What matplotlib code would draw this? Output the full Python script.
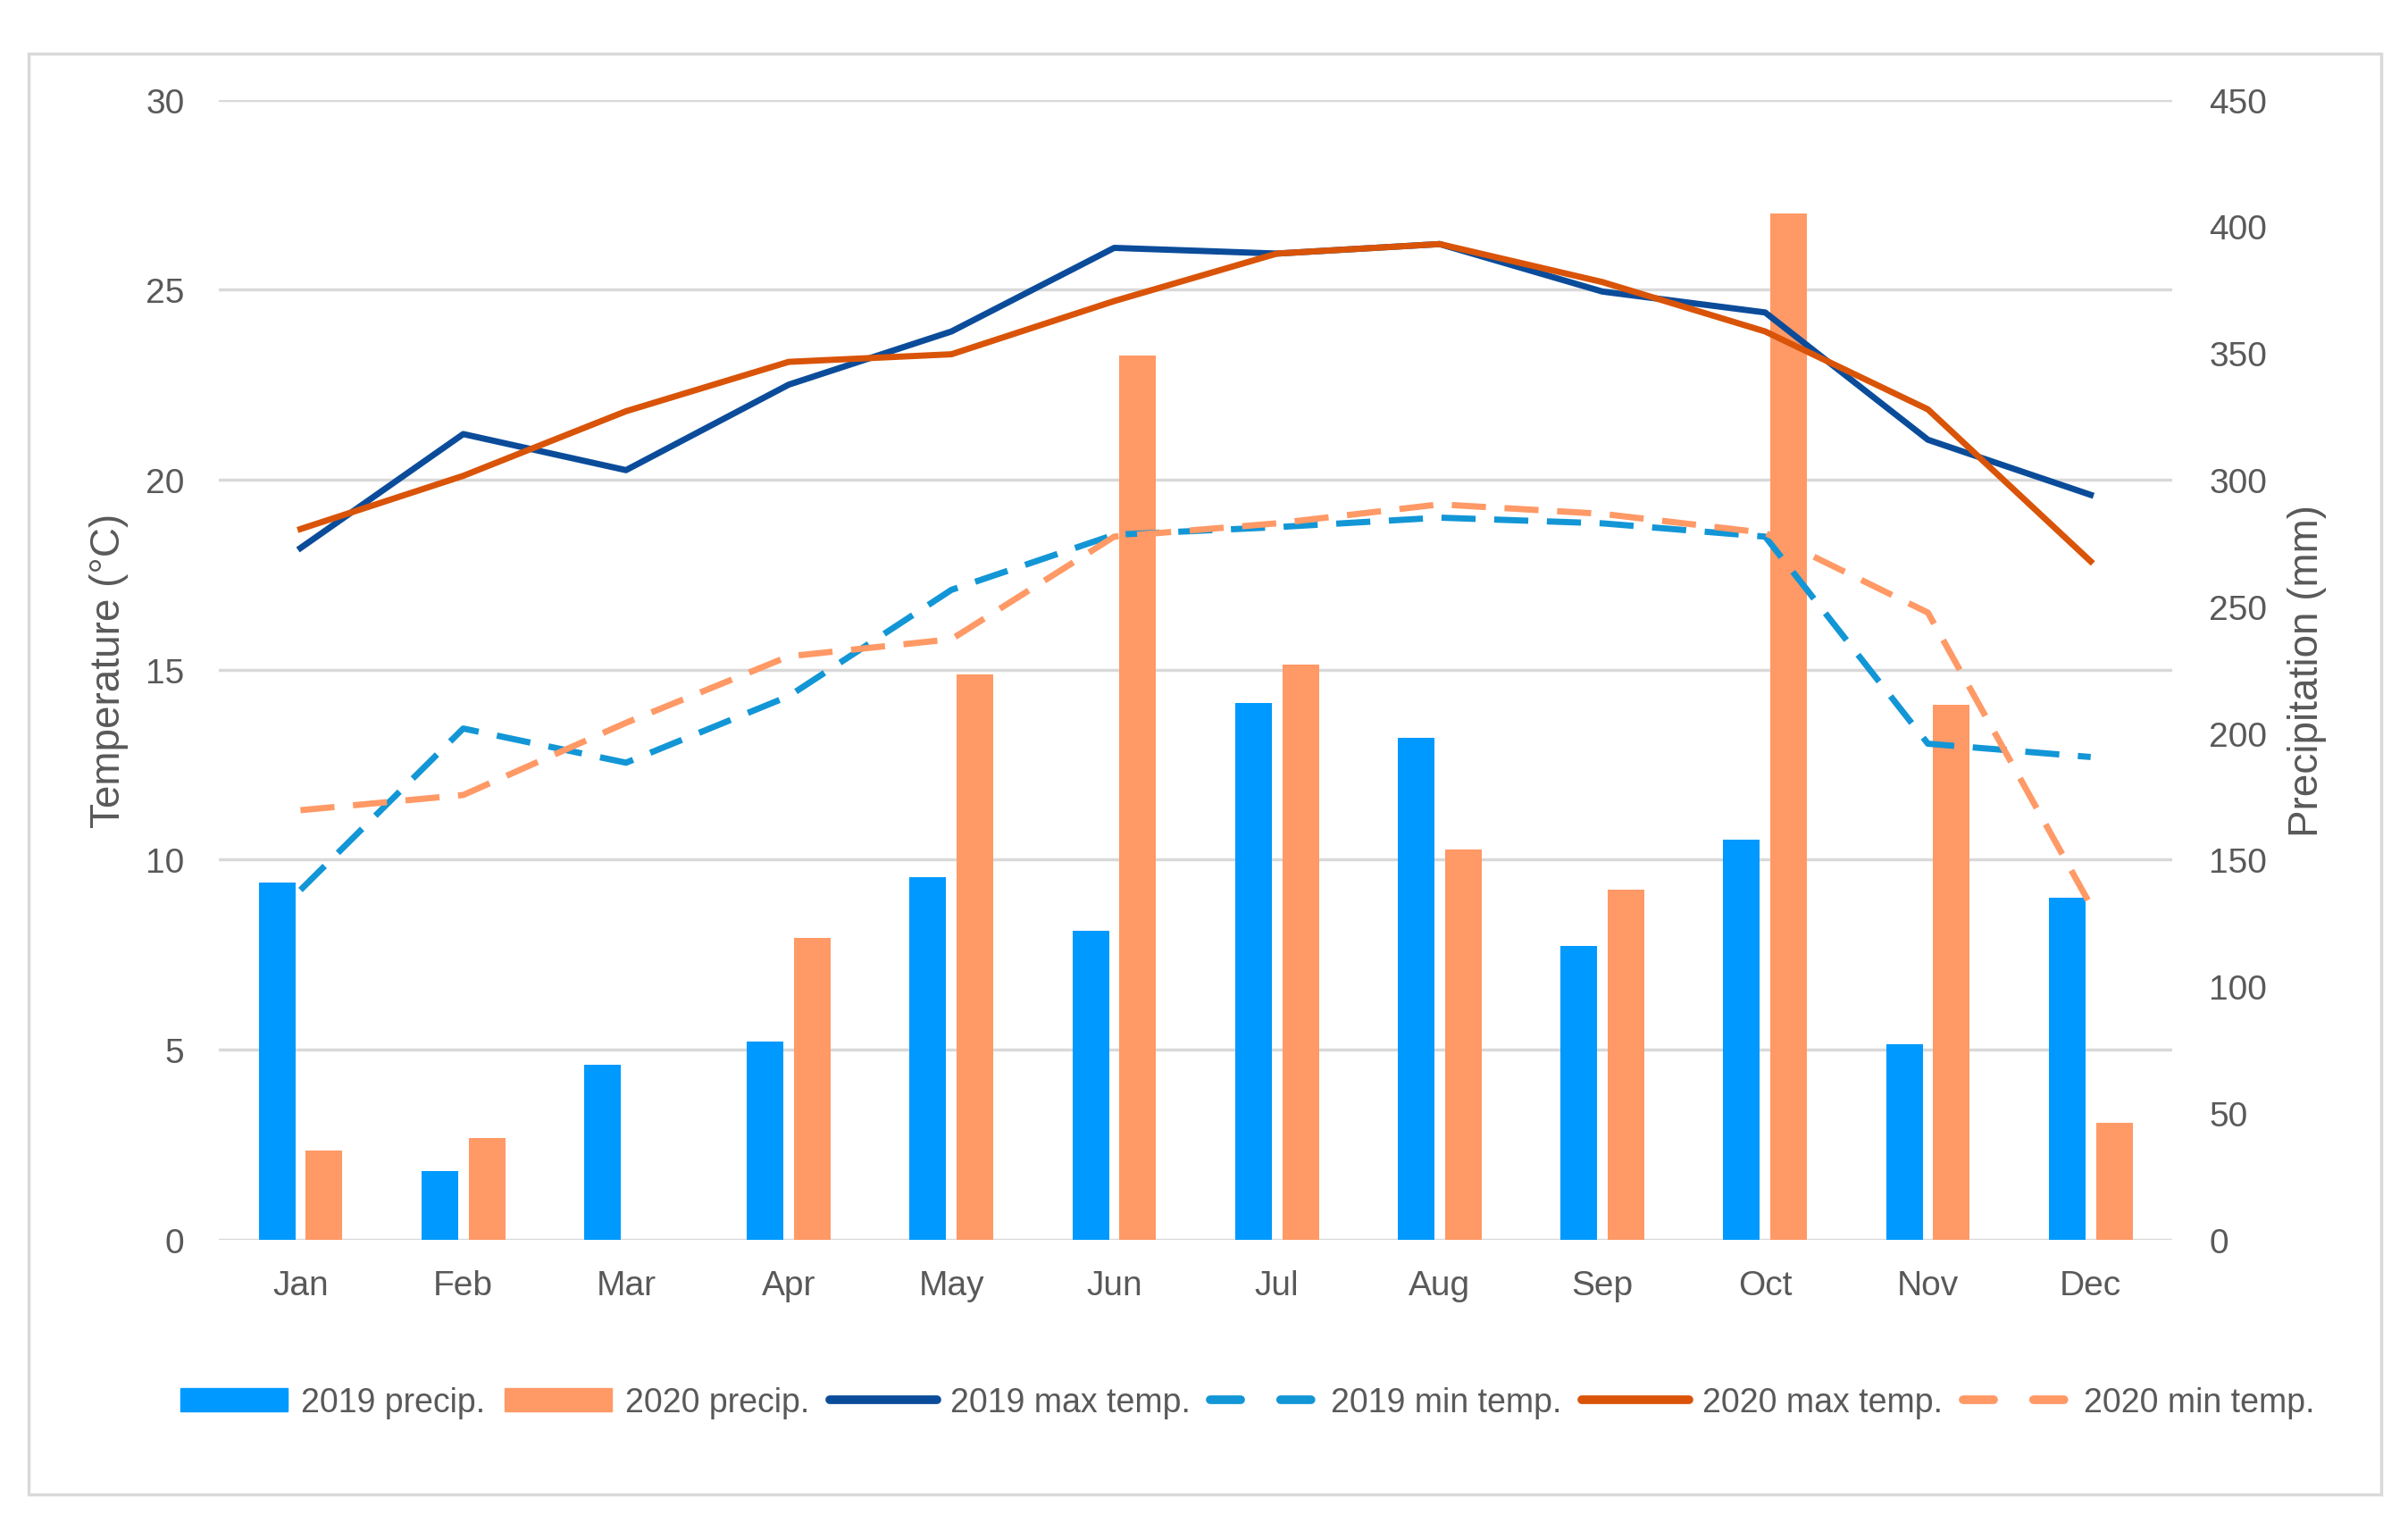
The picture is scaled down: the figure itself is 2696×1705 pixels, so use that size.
import numpy as np
import matplotlib.pyplot as plt
from matplotlib.patches import Patch, Rectangle
from matplotlib.lines import Line2D

plt.rcParams['font.family'] = ['Liberation Sans', 'DejaVu Sans']

months = ['Jan', 'Feb', 'Mar', 'Apr', 'May', 'Jun', 'Jul', 'Aug', 'Sep', 'Oct', 'Nov', 'Dec']
precip_2019 = [141, 27, 69, 78, 143, 122, 212, 198, 116, 158, 77, 135]
precip_2020 = [35, 40, 0, 119, 223, 349, 227, 154, 138, 405, 211, 46]
tmax_2019 = [18.2, 21.2, 20.25, 22.5, 23.9, 26.1, 25.95, 26.2, 24.95, 24.4, 21.05, 19.6]
tmax_2020 = [18.7, 20.1, 21.8, 23.1, 23.3, 24.7, 25.95, 26.2, 25.2, 23.9, 21.85, 17.85]
tmin_2019 = [9.2, 13.45, 12.55, 14.3, 17.1, 18.55, 18.75, 19.0, 18.85, 18.5, 13.05, 12.7]
tmin_2020 = [11.3, 11.7, 13.6, 15.35, 15.8, 18.5, 18.85, 19.35, 19.1, 18.6, 16.5, 8.8]

grey = '#595959'
c_p19 = '#0099FF'
c_p20 = '#FF9966'
c_max19 = '#0B4C9A'
c_min19 = '#1296D6'
c_max20 = '#D95408'
c_min20 = '#FF9966'

x = np.arange(len(months))
bw = 0.225
off = 0.145

fig = plt.figure(figsize=(26.96, 17.06), dpi=100)
fig.patches.append(Rectangle((0.012, 0.019), 0.977, 0.945, transform=fig.transFigure,
                             fill=False, edgecolor='#D9D9D9', linewidth=2.5))

ax2 = fig.add_axes([0.091, 0.186, 0.811, 0.748])
ax = ax2.twinx()
# temperature axis on top so the lines cover the bars
ax.set_zorder(ax2.get_zorder() + 1)
ax.patch.set_visible(False)

ax2.bar(x - off, precip_2019, bw, color=c_p19, zorder=2)
ax2.bar(x + off, precip_2020, bw, color=c_p20, zorder=2)
ax2.set_ylim(0, 450)
ax2.set_yticks(np.arange(0, 451, 50))
# gridlines follow the temperature ticks (every 5 degC = 75 mm)
ax2.yaxis.remove_overlapping_locs = False
ax2.set_yticks(np.arange(0, 451, 75), minor=True)
ax2.grid(axis='y', which='minor', color='#D9D9D9', linewidth=2.5)
ax2.grid(axis='y', which='major', visible=False)
ax2.set_axisbelow(True)
ax2.yaxis.tick_right()
ax2.yaxis.set_label_position('right')
ax2.set_xlim(-0.5, 11.5)
ax2.set_xticks(x)
ax2.set_xticklabels(months)

ls_dash = (0, (5.5, 3))
ax.plot(x, tmax_2019, color=c_max19, lw=5)
ax.plot(x, tmin_2019, color=c_min19, lw=5, linestyle=ls_dash)
ax.plot(x, tmax_2020, color=c_max20, lw=5)
ax.plot(x, tmin_2020, color=c_min20, lw=5, linestyle=ls_dash)
ax.set_ylim(0, 30)
ax.set_yticks(np.arange(0, 31, 5))
ax.yaxis.tick_left()
ax.yaxis.set_label_position('left')

for a in (ax, ax2):
    for s in a.spines.values():
        s.set_visible(False)
    a.tick_params(which='both', length=0, labelsize=28, colors=grey)
ax2.tick_params(axis='x', pad=24)
ax2.tick_params(axis='y', pad=30)
ax.tick_params(axis='y', pad=28)

ax.set_ylabel('Temperature (°C)', fontsize=33, color=grey, labelpad=14)
ax2.set_ylabel('Precipitation (mm)', fontsize=33, color=grey, labelpad=16)

handles = [
    Patch(color=c_p19), Patch(color=c_p20),
    Line2D([], [], color=c_max19, lw=7, solid_capstyle='round'),
    Line2D([], [], color=c_min19, lw=7, linestyle=(0, (3.5, 4.6)), dash_capstyle='round'),
    Line2D([], [], color=c_max20, lw=7, solid_capstyle='round'),
    Line2D([], [], color=c_min20, lw=7, linestyle=(0, (3.5, 4.6)), dash_capstyle='round'),
]
labels = ['2019 precip.', '2020 precip.', '2019 max temp.', '2019 min temp.',
          '2020 max temp.', '2020 min temp.']
leg = fig.legend(handles, labels, loc='center', bbox_to_anchor=(0.518, 0.079), ncol=6,
                 frameon=False, fontsize=27, handlelength=3.2, handleheight=0.7,
                 columnspacing=0.6, handletextpad=0.4)
for t in leg.get_texts():
    t.set_color(grey)

fig.savefig('out.png', dpi=100)
